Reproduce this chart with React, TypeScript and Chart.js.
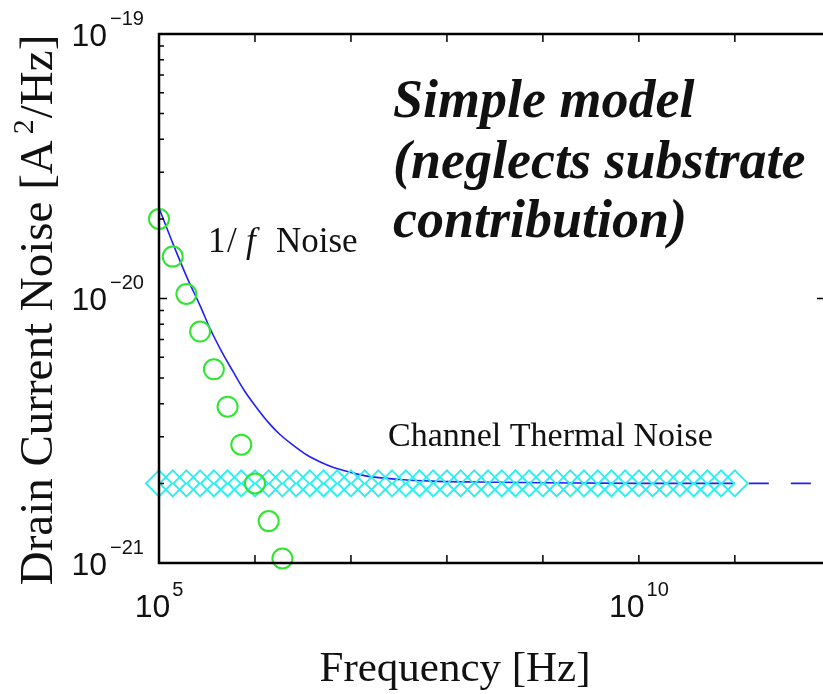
import { useEffect, useRef } from 'react';
import { Chart, registerables } from 'chart.js';

Chart.register(...registerables);

const SANS = '"Liberation Sans", Arial, sans-serif';
const SERIF = '"Liberation Serif", "Times New Roman", serif';

// Channel thermal noise markers (diamonds)
const thermalFreq = [
  1.0e5, 1.39e5, 1.93e5, 2.68e5, 3.73e5, 5.18e5, 7.2e5,
  1.0e6, 1.39e6, 1.93e6, 2.68e6, 3.73e6, 5.18e6, 7.2e6,
  1.0e7, 1.39e7, 1.93e7, 2.68e7, 3.73e7, 5.18e7, 7.2e7,
  1.0e8, 1.39e8, 1.93e8, 2.68e8, 3.73e8, 5.18e8, 7.2e8,
  1.0e9, 1.39e9, 1.93e9, 2.68e9, 3.73e9, 5.18e9, 7.2e9,
  1.0e10, 1.39e10, 1.93e10, 2.68e10, 3.73e10, 5.18e10, 7.2e10,
  1.0e11,
];
const thermalNoise = [
  2.0e-21, 2.0e-21, 2.0e-21, 2.0e-21, 2.0e-21, 2.0e-21, 2.0e-21,
  2.0e-21, 2.0e-21, 2.0e-21, 2.0e-21, 2.0e-21, 2.0e-21, 2.0e-21,
  2.0e-21, 2.0e-21, 2.0e-21, 2.0e-21, 2.0e-21, 2.0e-21, 2.0e-21,
  2.0e-21, 2.0e-21, 2.0e-21, 2.0e-21, 2.0e-21, 2.0e-21, 2.0e-21,
  2.0e-21, 2.0e-21, 2.0e-21, 2.0e-21, 2.0e-21, 2.0e-21, 2.0e-21,
  2.0e-21, 2.0e-21, 2.0e-21, 2.0e-21, 2.0e-21, 2.0e-21, 2.0e-21,
  2.0e-21,
];

// 1/f noise markers (circles)
const flickerFreq = [1.0e5, 1.39e5, 1.93e5, 2.68e5, 3.73e5, 5.18e5, 7.2e5, 1.0e6, 1.39e6, 1.93e6];
const flickerNoise = [2.0e-20, 1.44e-20, 1.04e-20, 7.5e-21, 5.4e-21, 3.9e-21, 2.8e-21, 2.0e-21, 1.44e-21, 1.04e-21];

// Total model (solid blue curve)
const totalFreq = [
  1.0e5, 1.39e5, 1.96e5, 2.68e5, 3.4e5, 4.5e5, 5.9e5, 7.7e5, 1.05e6, 1.4e6, 1.82e6,
  2.5e6, 3.48e6, 4.8e6, 6.5e6, 1.0e7, 1.47e7, 3.24e7, 7.1e7, 3.5e8, 1.0e9, 1.0e10, 1.0e11,
];
const totalNoise = [
  2.2e-20, 1.62e-20, 1.2e-20, 9.4e-21, 7.7e-21, 6.3e-21, 5.3e-21, 4.5e-21, 3.85e-21, 3.38e-21, 3.06e-21,
  2.79e-21, 2.56e-21, 2.41e-21, 2.3e-21, 2.2e-21, 2.13e-21, 2.07e-21, 2.04e-21, 2.02e-21, 2.01e-21, 2.0e-21, 2.0e-21,
];

// Dashed extension of the model
const extFreq = [1.0e11, 8.7e11];
const extNoise = [2.0e-21, 2.0e-21];

// Axes
const xMin = 1e5;
const xMax = 8.7e11;
const yMin = 1e-21;
const yMax = 1e-19;
const xMajorTicks = [1e5, 1e6, 1e7, 1e8, 1e9, 1e10, 1e11];
const xLabelValues = [1e5, 1e10];
const xLabelExps = ['5', '10'];
const yLabelValues = [1e-21, 1e-20, 1e-19];
const yLabelExps = ['\u221221', '\u221220', '\u221219'];
const yMinorTicks = [
  2e-21, 3e-21, 4e-21, 5e-21, 6e-21, 7e-21, 8e-21, 9e-21,
  2e-20, 3e-20, 4e-20, 5e-20, 6e-20, 7e-20, 8e-20, 9e-20,
];

const xTitle = 'Frequency [Hz]';
const yTitleParts = ['Drain Current Noise [A', '2', '/Hz]'];
const noteLines = ['Simple model', '(neglects substrate', 'contribution)'];
const thermalLabel = 'Channel Thermal Noise';

const BLUE = '#1f1fff';
const GREEN = '#2ee62e';
const CYAN = '#30eef0';

const pts = (xs: number[], ys: number[]) => xs.map((x, i) => ({ x, y: ys[i] }));

const framePlugin = {
  id: 'frameAndText',
  afterDraw(chart: any) {
    const { ctx, chartArea: a, scales } = chart;
    const x = scales.x;
    const y = scales.y;
    ctx.save();
    ctx.strokeStyle = '#000';
    ctx.fillStyle = '#111';

    // ticks (inward)
    ctx.lineWidth = 1.5;
    ctx.beginPath();
    xMajorTicks.forEach((v) => {
      const px = x.getPixelForValue(v);
      ctx.moveTo(px, a.bottom);
      ctx.lineTo(px, a.bottom - 8);
      ctx.moveTo(px, a.top);
      ctx.lineTo(px, a.top + 8);
    });
    yLabelValues.forEach((v) => {
      const py = y.getPixelForValue(v);
      ctx.moveTo(a.left, py);
      ctx.lineTo(a.left + 8, py);
      ctx.moveTo(a.right, py);
      ctx.lineTo(a.right - 8, py);
    });
    yMinorTicks.forEach((v) => {
      const py = y.getPixelForValue(v);
      ctx.moveTo(a.left, py);
      ctx.lineTo(a.left + 5, py);
    });
    ctx.stroke();

    // frame
    ctx.lineWidth = 2.5;
    ctx.strokeRect(a.left, a.top, a.right - a.left, a.bottom - a.top);

    // y tick labels
    ctx.textBaseline = 'alphabetic';
    yLabelValues.forEach((v, i) => {
      const py = y.getPixelForValue(v);
      ctx.font = `32px ${SANS}`;
      ctx.textAlign = 'right';
      ctx.fillText('10', a.left - 52, py + 11.5);
      ctx.font = `20px ${SANS}`;
      ctx.textAlign = 'left';
      ctx.fillText(yLabelExps[i], a.left - 49, py + 11.5 - 21);
    });

    // x tick labels
    xLabelValues.forEach((v, i) => {
      const px = x.getPixelForValue(v);
      ctx.font = `32px ${SANS}`;
      const wb = ctx.measureText('10').width;
      ctx.font = `20px ${SANS}`;
      const we = ctx.measureText(xLabelExps[i]).width;
      const start = px - (wb + 2 + we) / 2;
      ctx.textAlign = 'left';
      ctx.font = `32px ${SANS}`;
      ctx.fillText('10', start, a.bottom + 54);
      ctx.font = `20px ${SANS}`;
      ctx.fillText(xLabelExps[i], start + wb + 2, a.bottom + 33);
    });

    // x title
    ctx.font = `43px ${SERIF}`;
    ctx.textAlign = 'center';
    ctx.fillText(xTitle, 455, 681);

    // y title (rotated)
    ctx.save();
    ctx.translate(52, 310);
    ctx.rotate(-Math.PI / 2);
    ctx.textAlign = 'left';
    ctx.font = `47px ${SERIF}`;
    const w1 = ctx.measureText(yTitleParts[0]).width;
    const w3 = ctx.measureText(yTitleParts[2]).width;
    ctx.font = `30px ${SERIF}`;
    const w2 = ctx.measureText(yTitleParts[1]).width;
    const gap = 6;
    const total = w1 + gap + w2 + 1 + w3;
    let cx = -total / 2;
    ctx.font = `47px ${SERIF}`;
    ctx.fillText(yTitleParts[0], cx, 0);
    cx += w1 + gap;
    ctx.font = `30px ${SERIF}`;
    ctx.fillText(yTitleParts[1], cx, -19);
    cx += w2 + 1;
    ctx.font = `47px ${SERIF}`;
    ctx.fillText(yTitleParts[2], cx, 0);
    ctx.restore();

    // annotations
    ctx.textAlign = 'left';
    ctx.font = `italic bold 54px ${SERIF}`;
    const noteBaselines = [117, 178, 237];
    noteLines.forEach((t, i) => ctx.fillText(t, 393, noteBaselines[i]));

    ctx.font = `35px ${SERIF}`;
    ctx.fillText('1', 208, 252);
    ctx.fillText('/', 227, 252);
    ctx.font = `italic 35px ${SERIF}`;
    ctx.fillText('f', 246, 252);
    ctx.font = `35px ${SERIF}`;
    ctx.fillText('Noise', 276, 252);

    ctx.font = `34px ${SERIF}`;
    ctx.fillText(thermalLabel, 388, 446);

    ctx.restore();
  },
};

export default function App() {
  const canvasRef = useRef<HTMLCanvasElement | null>(null);

  useEffect(() => {
    if (!canvasRef.current) return;
    const chart = new Chart(canvasRef.current, {
      type: 'line',
      data: {
        datasets: [
          {
            label: 'Total',
            data: pts(totalFreq, totalNoise),
            borderColor: BLUE,
            borderWidth: 1.6,
            pointRadius: 0,
            fill: false,
            cubicInterpolationMode: 'monotone',
            clip: false,
            order: 3,
          } as any,
          {
            label: 'Extension',
            data: pts(extFreq, extNoise),
            borderColor: BLUE,
            borderWidth: 1.6,
            borderDash: [20, 22],
            borderDashOffset: 28,
            pointRadius: 0,
            fill: false,
            clip: false,
            order: 4,
          } as any,
          {
            label: 'Channel thermal noise',
            data: pts(thermalFreq, thermalNoise),
            showLine: false,
            pointStyle: 'rectRot',
            pointRadius: 13,
            pointBorderWidth: 2,
            pointBorderColor: CYAN,
            pointBackgroundColor: 'rgba(0,0,0,0)',
            borderColor: CYAN,
            clip: false,
            order: 2,
          } as any,
          {
            label: '1/f noise',
            data: pts(flickerFreq, flickerNoise),
            showLine: false,
            pointStyle: 'circle',
            pointRadius: 10,
            pointBorderWidth: 2,
            pointBorderColor: GREEN,
            pointBackgroundColor: 'rgba(0,0,0,0)',
            borderColor: GREEN,
            clip: false,
            order: 1,
          } as any,
        ],
      },
      options: {
        animation: false,
        responsive: true,
        maintainAspectRatio: false,
        events: [],
        layout: { padding: { left: 159, top: 34, right: 15, bottom: 131 } },
        plugins: { legend: { display: false }, tooltip: { enabled: false } },
        scales: {
          x: { type: 'logarithmic', min: xMin, max: xMax, display: false },
          y: { type: 'logarithmic', min: yMin, max: yMax, display: false },
        },
      },
      plugins: [framePlugin],
    } as any);
    return () => chart.destroy();
  }, []);

  return (
    <div style={{ position: 'fixed', left: 0, top: 0, width: 823, height: 694, overflow: 'hidden', background: '#fff' }}>
      <div style={{ position: 'relative', width: 840, height: 694 }}>
        <canvas ref={canvasRef} />
      </div>
    </div>
  );
}
